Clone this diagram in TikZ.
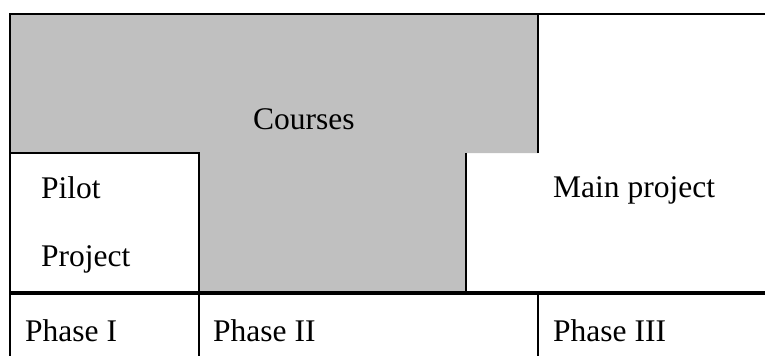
\documentclass[tikz,border=0pt]{standalone}
\usepackage{fontspec}
\setmainfont{Liberation Serif}
\definecolor{cellgray}{HTML}{C0C0C0}
\begin{document}
\begin{tikzpicture}[x=1pt,y=-1pt,
  lbl/.style={anchor=base west,inner sep=0pt,font=\fontsize{31.5}{38}\selectfont},
  rule/.style={line width=2pt},
  thickrule/.style={line width=3.2pt},
]
\useasboundingbox (0,0) rectangle (765,356);
\fill[cellgray] (10,14) -- (538,14) -- (538,153) -- (466,153) -- (466,293) -- (199,293) -- (199,153) -- (10,153) -- cycle;
\draw[line width=2.7pt] (9,14) -- (765,14);
\draw[rule] (10,13) -- (10,356);
\draw[rule] (538,14) -- (538,153);
\draw[rule] (10,153) -- (199,153) -- (199,293);
\draw[rule] (466,153) -- (466,293);
\draw[thickrule] (9,293) -- (765,293);
\draw[rule] (199,293) -- (199,356);
\draw[rule] (538,293) -- (538,356);
\node[lbl] (courses) at (253,129) {Courses};
\node[lbl] (pilot) at (41,198) {Pilot};
\node[lbl] (project) at (41,266) {Project};
\node[lbl] (main) at (553,197) {Main project};
\node[lbl] (p1) at (25,341) {Phase I};
\node[lbl] (p2) at (213,341) {Phase II};
\node[lbl] (p3) at (553,341) {Phase III};
\end{tikzpicture}
\end{document}
